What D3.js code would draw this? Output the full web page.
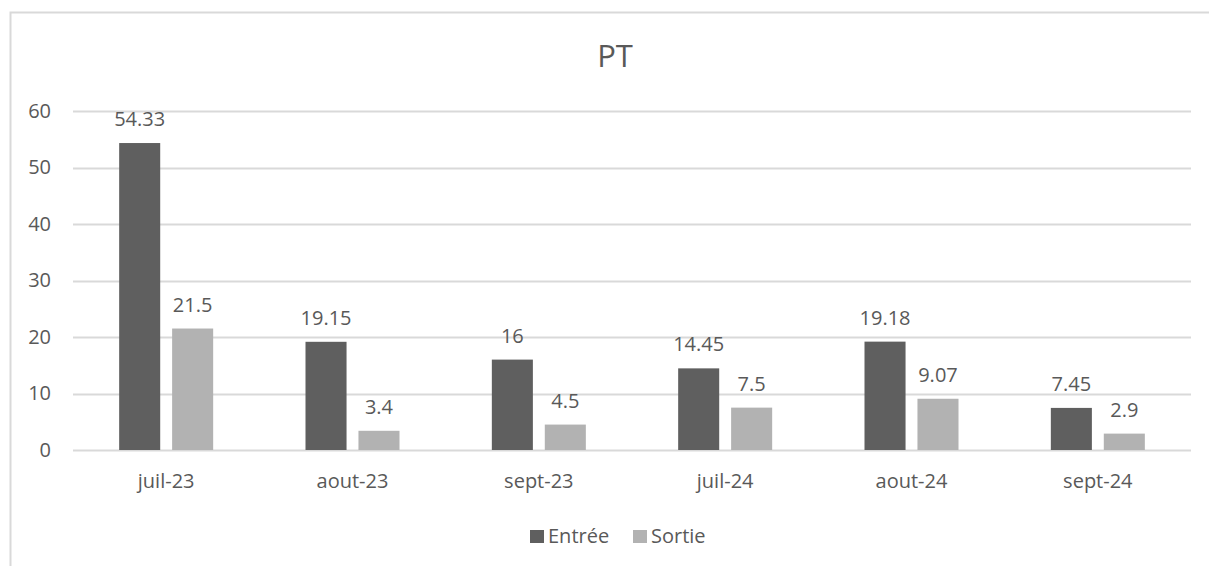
<!DOCTYPE html>
<html><head><meta charset="utf-8">
<script src="https://cdn.jsdelivr.net/npm/d3@7"></script>
<style>
html,body{margin:0;padding:0;background:#fff;}
svg{display:block;font-family:"Open Sans",sans-serif;}
</style></head>
<body><svg id="c" width="1209" height="566"></svg>
<script>
const categories = ["juil-23","aout-23","sept-23","juil-24","aout-24","sept-24"];
const entree = [54.33, 19.15, 16, 14.45, 19.18, 7.45];
const sortie = [21.5, 3.4, 4.5, 7.5, 9.07, 2.9];
const seriesNames = ["Entrée","Sortie"];
const seriesColors = ["#5f5f5f","#b2b2b2"];
const yTicks = [0,10,20,30,40,50,60];

(function(){
const svg = d3.select("#c");
const textColor = "#595959";
const fs = "20px";
// chart border
svg.append("path").attr("d","M10.5,566 V12.5 H1209").attr("fill","none").attr("stroke","#d9d9d9").attr("stroke-width",2);

const pLeft = 73, pRight = 1191, pTop = 111, pBottom = 450;
const x = d3.scaleBand().domain(categories).range([pLeft,pRight]);
const y = d3.scaleLinear().domain([0,60]).range([pBottom,pTop]);
const inner = d3.scaleBand().domain(seriesNames).range([0,94]).paddingInner(0.225);
const groupOffset = (x.bandwidth()-94)/2;

// gridlines
svg.append("g").selectAll("line").data(yTicks).join("line")
  .attr("x1",pLeft).attr("x2",pRight)
  .attr("y1",d=>Math.round(y(d))+0.5).attr("y2",d=>Math.round(y(d))+0.5)
  .attr("stroke","#d9d9d9").attr("stroke-width",2);

// y axis labels
const yAxis = d3.axisLeft(y).tickValues(yTicks).tickSize(0).tickPadding(22);
const ya = svg.append("g").attr("transform",`translate(${pLeft},0)`).call(yAxis);
ya.select(".domain").remove();
ya.selectAll("text").attr("fill",textColor).style("font-size",fs).style("font-family","'Open Sans',sans-serif");

// x axis labels
const xAxis = d3.axisBottom(x).tickSize(0).tickPadding(24);
const xa = svg.append("g").attr("transform",`translate(0,${pBottom})`).call(xAxis);
xa.select(".domain").remove();
xa.selectAll("text").attr("fill",textColor).style("font-size",fs).style("font-family","'Open Sans',sans-serif");

const data = [entree, sortie];
data.forEach((vals,si)=>{
  const g = svg.append("g");
  g.selectAll("rect").data(vals).join("rect")
    .attr("x",(d,i)=>x(categories[i])+groupOffset+inner(seriesNames[si]))
    .attr("width",inner.bandwidth())
    .attr("y",d=>y(d))
    .attr("height",d=>y(0)-y(d))
    .attr("fill",seriesColors[si]);
  g.selectAll("text").data(vals).join("text")
    .attr("x",(d,i)=>x(categories[i])+groupOffset+inner(seriesNames[si])+inner.bandwidth()/2)
    .attr("y",d=>y(d)-17)
    .attr("text-anchor","middle")
    .attr("fill",textColor)
    .style("font-size",fs)
    .text(d=>d);
});

// title
svg.append("text").attr("x",615).attr("y",67).attr("text-anchor","middle")
  .attr("fill",textColor).style("font-size","31px").text("PT");

// legend
const legendItems = [{name:seriesNames[0],color:seriesColors[0],x:530},{name:seriesNames[1],color:seriesColors[1],x:633}];
const lg = svg.append("g");
lg.selectAll("rect").data(legendItems).join("rect")
  .attr("x",d=>d.x).attr("y",530).attr("width",14).attr("height",13).attr("fill",d=>d.color);
lg.selectAll("text").data(legendItems).join("text")
  .attr("x",d=>d.x+18).attr("y",543).attr("fill",textColor).style("font-size",fs).text(d=>d.name);
})();
</script></body></html>
